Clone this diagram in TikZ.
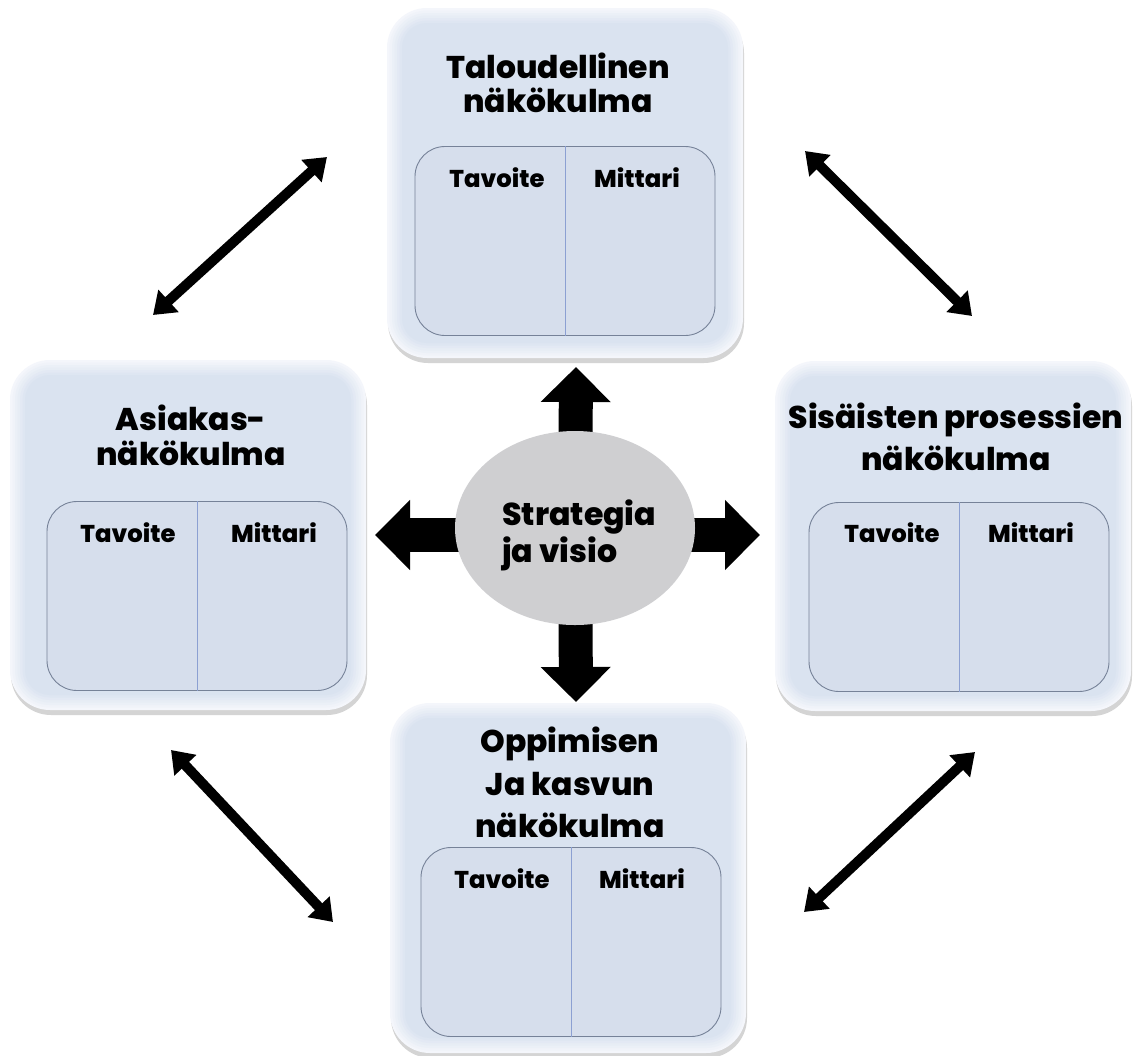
\documentclass[tikz,border=0pt]{standalone}
\usepackage{fontspec}
\IfFontExistsTF{Poppins ExtraBold}{%
  \setmainfont{Poppins}[BoldFont={Poppins ExtraBold}]%
  \def\tsz{31.4}\def\lsz{24.3}\def\csz{31.6}%
}{%
  \setmainfont{Poppins}%
  \def\tsz{32.3}\def\lsz{25}\def\csz{32.5}%
}
\usetikzlibrary{shadows,arrows.meta,calc,shapes.geometric}
\pgfdeclarelayer{background}
\pgfsetlayers{background,main}
\definecolor{rimc}{RGB}{244,246,251}
\definecolor{boxc}{RGB}{218,227,240}
\definecolor{innc}{RGB}{214,222,236}
\definecolor{innd}{RGB}{118,130,152}
\definecolor{divc}{RGB}{140,160,210}
\definecolor{ellc}{RGB}{207,207,209}
\tikzset{
  outerbox/.style={rectangle, rounded corners=40pt, minimum width=356pt, minimum height=350pt, inner sep=0pt},
  innerbox/.style={rectangle, rounded corners=30pt, minimum width=300pt, minimum height=189pt, fill=innc, draw=innd, line width=0.9pt, inner sep=0pt},
  divider/.style={draw=divc, line width=1pt},
  boxtitle/.style={font=\fontsize{\tsz}{34}\selectfont\bfseries, anchor=base, inner sep=0pt},
  collabel/.style={font=\fontsize{\lsz}{25}\selectfont\bfseries, anchor=base, inner sep=0pt},
  centretext/.style={font=\fontsize{\csz}{34}\selectfont\bfseries, anchor=base west, inner sep=0pt},
  blockarrow/.style={line width=34pt, -{Triangle[width=68pt,length=35pt]}, draw=black},
  diagarrow/.style={line width=10pt, {Triangle[width=29pt,length=21pt]}-{Triangle[width=29pt,length=21pt]}, draw=black},
}
\newcommand\bevelbox[2]{%
  \node[outerbox, fill=rimc, drop shadow={opacity=0.3, shadow xshift=1pt, shadow yshift=-5pt, fill=black!55}] (#1) at (#2) {};
  \foreach \k in {1,...,6}{%
    \pgfmathtruncatemacro\pc{100*\k/6}%
    \pgfmathsetmacro\ww{356-5*\k}%
    \pgfmathsetmacro\hh{350-5*\k}%
    \pgfmathsetmacro\rr{40-2.5*\k}%
    \node[outerbox, fill=boxc!\pc!rimc, minimum width=\ww pt, minimum height=\hh pt, rounded corners=\rr pt] (#1-b\k) at (#1.center) {};
  }%
}
\begin{document}
\begin{tikzpicture}[x=1pt,y=-1pt]
\useasboundingbox (0,0) rectangle (1134,1055);

% ---- boxes
\bevelbox{T}{565,183}
\bevelbox{L}{188,535}
\bevelbox{R}{953,536}
\bevelbox{B}{568,878}

% ---- inner boxes
\node[innerbox] (Ti) at (565,241) {};
\node[innerbox] (Li) at (197,596) {};
\node[innerbox] (Ri) at (959,597) {};
\node[innerbox] (Bi) at (571,942) {};
\draw[divider] (Ti.north) -- (Ti.south);
\draw[divider] (Li.north) -- (Li.south);
\draw[divider] (Ri.north) -- (Ri.south);
\draw[divider] (Bi.north) -- (Bi.south);

% ---- texts
\node[boxtitle] (Tt1) at (558,78) {Taloudellinen};
\node[boxtitle] (Tt2) at (558,112) {näkökulma};
\node[collabel] (Tc1) at (497,187) {Tavoite};
\node[collabel] (Tc2) at (637,187) {Mittari};

\node[boxtitle] (Lt1) at (191,430) {Asiakas-};
\node[boxtitle] (Lt2) at (191,465) {näkökulma};
\node[collabel] (Lc1) at (128,542) {Tavoite};
\node[collabel] (Lc2) at (274,542) {Mittari};

\node[boxtitle] (Rt1) at (956,428) {Sisäisten prosessien};
\node[boxtitle] (Rt2) at (956,470) {näkökulma};
\node[collabel] (Rc1) at (892,542) {Tavoite};
\node[collabel] (Rc2) at (1031,542) {Mittari};

\node[boxtitle] (Bt1) at (570,752) {Oppimisen};
\node[boxtitle] (Bt2) at (570,795) {Ja kasvun};
\node[boxtitle] (Bt3) at (570,837) {näkökulma};
\node[collabel] (Bc1) at (502,888) {Tavoite};
\node[collabel] (Bc2) at (642,888) {Mittari};

% ---- centre
\node[ellipse, fill=ellc, minimum width=240pt, minimum height=194pt, inner sep=0pt] (S) at (575,528) {};
\node[centretext] (S1) at (502,525) {Strategia};
\node[centretext] (S2) at (502,562) {ja visio};

\coordinate (upT) at (576,367);
\coordinate (dnT) at (576,702);
\coordinate (lfT) at (375,535);
\coordinate (rtT) at (760,535);
\begin{pgfonlayer}{background}
\fill[white] (0,0) rectangle (1134,1055);
\draw[blockarrow] (S.center) -- (upT);
\draw[blockarrow] (S.center) -- (dnT);
\draw[blockarrow] (S.center |- lfT) -- (lfT);
\draw[blockarrow] (S.center |- rtT) -- (rtT);
\end{pgfonlayer}

% ---- diagonal arrows
\coordinate (d1a) at (153,315);
\coordinate (d1b) at (327,157);
\coordinate (d2a) at (805,151);
\coordinate (d2b) at (972,316);
\coordinate (d3a) at (171,750);
\coordinate (d3b) at (333,922);
\coordinate (d4a) at (975,752);
\coordinate (d4b) at (804,912);
\draw[diagarrow] (d1a) -- (d1b);
\draw[diagarrow] (d2a) -- (d2b);
\draw[diagarrow] (d3a) -- (d3b);
\draw[diagarrow] (d4a) -- (d4b);
\end{tikzpicture}
\end{document}
